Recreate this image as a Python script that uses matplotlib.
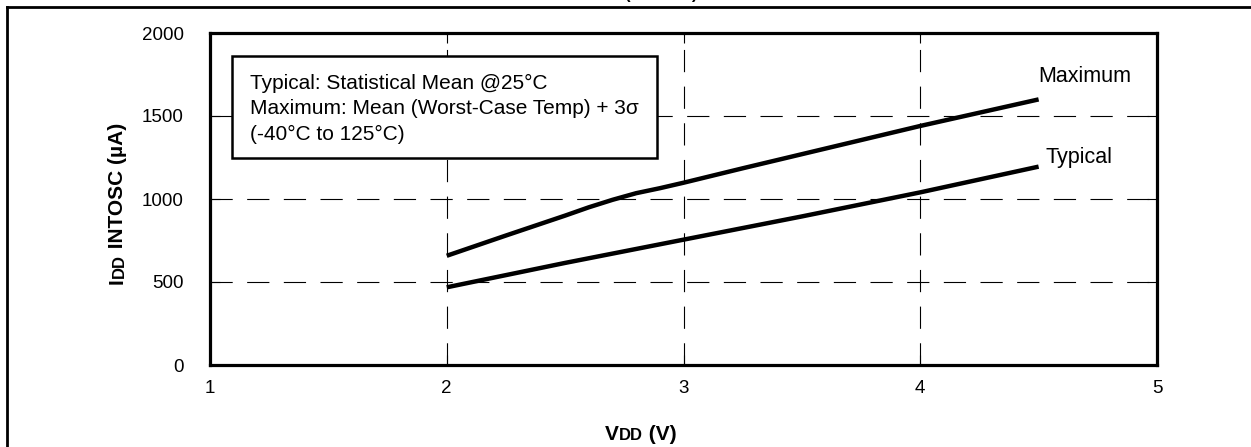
import matplotlib
matplotlib.use("Agg")
import matplotlib.pyplot as plt
from matplotlib.lines import Line2D
from matplotlib.patches import Rectangle

plt.rcParams['font.family'] = ['Liberation Sans', 'DejaVu Sans']

# ---- data ----
vdd_max = [2.0, 2.25, 2.5, 2.6, 2.7, 2.8, 2.9, 3.0, 3.25, 3.5, 4.0, 4.5]
idd_max = [658, 780, 900, 950, 995, 1035, 1065, 1098, 1185, 1270, 1440, 1600]
vdd_typ = [2.0, 2.5, 3.0, 3.5, 4.0, 4.5]
idd_typ = [468, 615, 755, 895, 1040, 1195]
x_ticks = [1, 2, 3, 4, 5]
y_ticks = [0, 500, 1000, 1500, 2000]
note_lines = ["Typical: Statistical Mean @25°C",
              "Maximum: Mean (Worst-Case Temp) + 3σ",
              "(-40°C to 125°C)"]
title_text = "(INTOSC)"

W, H = 1251, 447
fig = plt.figure(figsize=(W / 100, H / 100), dpi=100)
fig.patch.set_facecolor('white')

def fx(px):
    return px / W

def fy(py):
    return 1 - py / H

ax = fig.add_axes([fx(210), fy(365), fx(1157) - fx(210), fy(33) - fy(365)])
ax.set_xlim(1, 5)
ax.set_ylim(0, 2000)
ax.set_xticks(x_ticks)
ax.set_yticks(y_ticks)
ax.set_xticklabels([str(v) for v in x_ticks])
ax.set_yticklabels([str(v) for v in y_ticks])
for s in ax.spines.values():
    s.set_linewidth(2.3)
ax.tick_params(direction='in', length=7, width=0.8, top=True, right=True,
               labelsize=13.5, colors='black')
ax.tick_params(axis='y', pad=19)
ax.tick_params(axis='x', pad=11)
ax.grid(True, color='black', linewidth=0.8, linestyle=(0, (20, 13)))

ax.plot(vdd_max, idd_max, color='black', linewidth=3.2, solid_capstyle='butt',
        solid_joinstyle='round', zorder=3)
ax.plot(vdd_typ, idd_typ, color='black', linewidth=3.2, solid_capstyle='butt',
        solid_joinstyle='round', zorder=3)

ax.text(4.5, 1740, "Maximum", fontsize=15.5, ha='left', va='center')
ax.text(4.53, 1247, "Typical", fontsize=15.5, ha='left', va='center')

# note box
ax.add_patch(Rectangle((1.093, 1247), 2.888 - 1.093, 1861 - 1247, facecolor='white',
                       edgecolor='black', linewidth=1.8, zorder=4))
ax.text(1.169, 1543, "\n".join(note_lines), fontsize=15, ha='left', va='center',
        linespacing=1.45, zorder=5)

# x label with small-caps style subscript
xl = fig.text(fx(605), fy(440), "V", fontsize=15, fontweight='bold', ha='left', va='baseline')
fig.canvas.draw()
r = fig.canvas.get_renderer()
bb = xl.get_window_extent(r)
t = fig.text(bb.x1 / W, fy(440), "DD", fontsize=12, fontweight='bold', ha='left', va='baseline')
bb2 = t.get_window_extent(r)
fig.text(bb2.x1 / W, fy(440), " (V)", fontsize=15, fontweight='bold', ha='left', va='baseline')

# y label
yl = fig.text(fx(127), fy(284), "I", fontsize=15, fontweight='bold', rotation=90,
              ha='right', va='bottom')
fig.canvas.draw()
b = yl.get_window_extent(r)
t2 = fig.text(b.x1 / W, b.y1 / H, "DD", fontsize=12, fontweight='bold', rotation=90,
              ha='right', va='bottom')
fig.canvas.draw()
b2 = t2.get_window_extent(r)
fig.text(b.x1 / W, b2.y1 / H, " INTOSC (µA)", fontsize=15, fontweight='bold', rotation=90,
         ha='right', va='bottom')

# outer frame
fig.add_artist(Line2D([fx(7), 1.0], [fy(6.5), fy(6.5)], color='black', linewidth=2.0,
                      transform=fig.transFigure))
fig.add_artist(Line2D([fx(7), fx(7)], [fy(6.5), 0.0], color='black', linewidth=2.0,
                      transform=fig.transFigure))

# partially visible title at the top
fig.text(fx(661), fy(-1), title_text, fontsize=12, fontweight='bold', ha='center', va='baseline')

fig.savefig("out.png", dpi=100, facecolor='white')
